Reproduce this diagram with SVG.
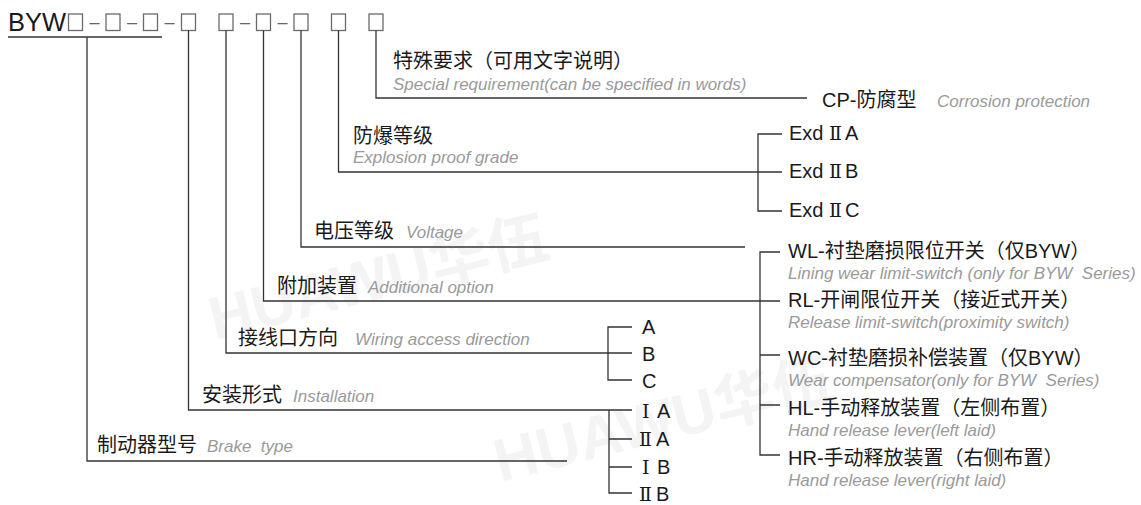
<svg xmlns="http://www.w3.org/2000/svg" width="1141" height="505" viewBox="0 0 1141 505">
<style>
.t{font-family:"Liberation Sans","Noto Sans CJK SC",sans-serif;font-size:20px;fill:#1a1a1a}
.s{font-family:"Liberation Sans",sans-serif;font-style:italic;font-size:17px;fill:#9a9a9a;white-space:pre}
.r{font-family:"DejaVu Serif","Liberation Serif",serif;font-size:19px}
.ln{stroke:#333;stroke-width:1.3;fill:none}
.bx{fill:none;stroke:#6a6a6a;stroke-width:1.3}
.dh{font-family:"Liberation Sans",sans-serif;font-size:18px;fill:#666}
.wm{font-family:"Liberation Sans","Noto Sans CJK SC",sans-serif;font-size:60px;font-weight:bold;fill:#f4f4f4}
</style>
<rect width="1141" height="505" fill="#fff"/>
<g id="watermark">
<text class="wm" transform="translate(215,340) rotate(-14)">HUAWU华伍</text>
<text class="wm" transform="translate(500,482) rotate(-14)">HUAWU华伍</text>
</g>
<g id="header">
<text class="t" x="8" y="31" style="font-size:25px" textLength="58" lengthAdjust="spacingAndGlyphs">BYW</text>
<rect class="bx" x="68.5" y="14" width="14" height="16.5"/>
<rect class="bx" x="106" y="14" width="14" height="16.5"/>
<rect class="bx" x="143.5" y="14" width="14" height="16.5"/>
<rect class="bx" x="181.5" y="14" width="14" height="16.5"/>
<rect class="bx" x="219" y="14" width="14" height="16.5"/>
<rect class="bx" x="256.5" y="14" width="14" height="16.5"/>
<rect class="bx" x="294" y="14" width="14" height="16.5"/>
<rect class="bx" x="331.5" y="14" width="14" height="16.5"/>
<rect class="bx" x="369" y="14" width="14" height="16.5"/>
<text class="dh" text-anchor="middle"><tspan x="94.5" y="28">–</tspan><tspan x="132" y="28">–</tspan><tspan x="169.5" y="28">–</tspan><tspan x="245" y="28">–</tspan><tspan x="282.5" y="28">–</tspan></text>
</g>
<g id="connectors" class="ln">
<path d="M8 37H162"/>
<path d="M87 37V461H567"/>
<path d="M188.5 30.5V410H632"/>
<path d="M226 30.5V353H632"/>
<path d="M263.5 30.5V301H780"/>
<path d="M301 30.5V247H745"/>
<path d="M338.5 30.5V172H782"/>
<path d="M376 30.5V98H807"/>
<path d="M782 134H758V211H782"/>
<path d="M632 327H608V380H632"/>
<path d="M609 410V493H632M609 439H632M609 467H632"/>
<path d="M780 252H760V455H780M760 355H780M760 405H780"/>
</g>
<g id="special">
<text class="t" x="393" y="68">特殊要求（可用文字说明）</text>
<text class="s" x="393" y="90">Special requirement(can be specified in words)</text>
</g>
<g id="cp">
<text class="t" x="822" y="107">CP-防腐型</text>
<text class="s" x="937" y="107">Corrosion protection</text>
</g>
<g id="explosion">
<text class="t" x="353" y="143">防爆等级</text>
<text class="s" x="353" y="163">Explosion proof grade</text>
</g>
<g id="exd">
<text class="t" x="789" y="140">Exd <tspan class="r" x="829">Ⅱ</tspan><tspan x="845">A</tspan></text>
<text class="t" x="789" y="178">Exd <tspan class="r" x="829">Ⅱ</tspan><tspan x="845">B</tspan></text>
<text class="t" x="789" y="217">Exd <tspan class="r" x="829">Ⅱ</tspan><tspan x="845">C</tspan></text>
</g>
<g id="voltage">
<text class="t" x="314" y="238">电压等级</text>
<text class="s" x="406" y="238">Voltage</text>
</g>
<g id="additional">
<text class="t" x="277" y="293">附加装置</text>
<text class="s" x="368" y="293">Additional option</text>
</g>
<g id="options">
<text class="t" x="788" y="258">WL-衬垫磨损限位开关（仅BYW）</text>
<text class="s" x="788" y="279" xml:space="preserve">Lining wear limit-switch (only for BYW  Series)</text>
<text class="t" x="788" y="307">RL-开闸限位开关（接近式开关）</text>
<text class="s" x="788" y="328">Release limit-switch(proximity switch)</text>
<text class="t" x="788" y="365">WC-衬垫磨损补偿装置（仅BYW）</text>
<text class="s" x="788" y="386" xml:space="preserve">Wear compensator(only for BYW  Series)</text>
<text class="t" x="788" y="415">HL-手动释放装置（左侧布置）</text>
<text class="s" x="788" y="436">Hand release lever(left laid)</text>
<text class="t" x="788" y="465">HR-手动释放装置（右侧布置）</text>
<text class="s" x="788" y="486">Hand release lever(right laid)</text>
</g>
<g id="wiring">
<text class="t" x="238" y="345">接线口方向</text>
<text class="s" x="355" y="345">Wiring access direction</text>
</g>
<g id="abc">
<text class="t" x="642" y="334">A</text>
<text class="t" x="642" y="361">B</text>
<text class="t" x="642" y="388">C</text>
</g>
<g id="installation">
<text class="t" x="202" y="402">安装形式</text>
<text class="s" x="293" y="402">Installation</text>
</g>
<g id="install-options">
<text class="t" y="418"><tspan class="r" x="642">Ⅰ</tspan><tspan x="657">A</tspan></text>
<text class="t" y="446"><tspan class="r" x="639">Ⅱ</tspan><tspan x="656">A</tspan></text>
<text class="t" y="474"><tspan class="r" x="642">Ⅰ</tspan><tspan x="657">B</tspan></text>
<text class="t" y="501"><tspan class="r" x="639">Ⅱ</tspan><tspan x="656">B</tspan></text>
</g>
<g id="brake">
<text class="t" x="97" y="452">制动器型号</text>
<text class="s" x="207" y="452" xml:space="preserve">Brake  type</text>
</g>
</svg>
